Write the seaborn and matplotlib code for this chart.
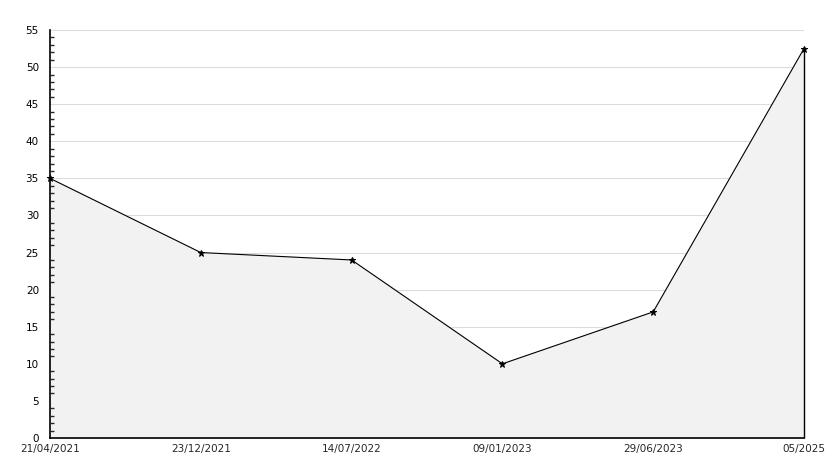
import numpy as np
import pandas as pd
import matplotlib
matplotlib.use("Agg")
import matplotlib.pyplot as plt
from matplotlib.ticker import MultipleLocator
import seaborn as sns

dates = ["21/04/2021", "23/12/2021", "14/07/2022", "09/01/2023", "29/06/2023", "05/2025"]
values = [35, 25, 24, 10, 17, 52.5]

df = pd.DataFrame({"pos": np.arange(len(dates)), "value": values})

sns.set_style("white")
plt.rcParams["font.family"] = ["DejaVu Sans"]

fig = plt.figure(figsize=(8.34, 4.68), dpi=100)
ax = fig.add_axes([50 / 834, 30 / 468, 754 / 834, 408 / 468])

ax.set_xlim(0, len(dates) - 1)
ax.set_ylim(0, 55)
ax.yaxis.set_major_locator(MultipleLocator(5))
ax.yaxis.set_minor_locator(MultipleLocator(1))

# grid drawn by hand so the fill can sit on top of it but under the ticks
for yv in ax.get_yticks():
    if 0 < yv <= 55:
        ax.axhline(yv, color="#dcdcdc", lw=0.8, zorder=0)

# shaded area under the line
ax.fill_between(df["pos"], 0, df["value"], color="#f2f2f2", zorder=1)
ax.vlines(df["pos"].iloc[-1], 0, df["value"].iloc[-1], color="black", lw=1,
          zorder=3, clip_on=False)

sns.lineplot(data=df, x="pos", y="value", color="black", lw=0.8,
             marker="*", markersize=5, markeredgecolor="black", ax=ax, zorder=4,
             clip_on=False)

ax.set_xticks(df["pos"])
ax.set_xticklabels(dates)
ax.set_axisbelow(False)

ax.tick_params(axis="y", which="major", direction="in", length=5, width=1,
               labelsize=7.5, pad=8, colors="black")
ax.tick_params(axis="y", which="minor", direction="in", length=3, width=1, left=True)
ax.tick_params(axis="x", direction="in", length=5, width=1, labelsize=7.5, pad=4)

for s in ["top", "right"]:
    ax.spines[s].set_visible(False)
for s in ["left", "bottom"]:
    ax.spines[s].set_color("black")
    ax.spines[s].set_linewidth(1.2)

ax.set_xlabel("")
ax.set_ylabel("")

fig.savefig("out.png", dpi=100)
